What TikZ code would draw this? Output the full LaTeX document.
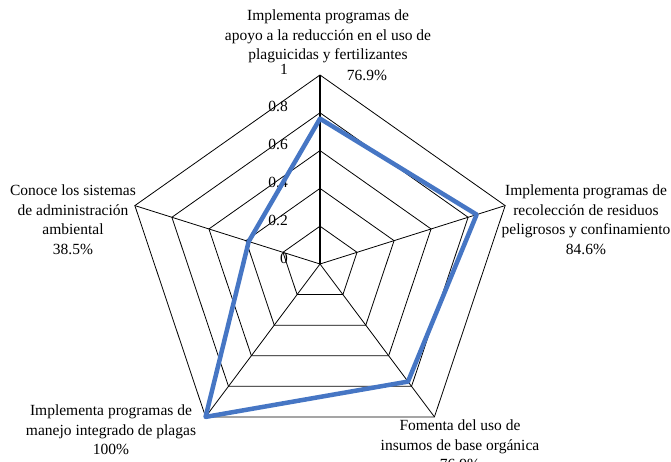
\documentclass[tikz,border=0pt]{standalone}
\usepackage{fontspec}
\setmainfont{Liberation Serif}
\definecolor{serieblue}{RGB}{70,118,196}
\begin{document}
\begin{tikzpicture}[x=1pt,y=-1pt,
  lbl/.style={font=\fontsize{15.5}{19.5}\selectfont, align=center, inner sep=0pt, anchor=north},
  ticklbl/.style={font=\fontsize{15.5}{18}\selectfont, inner sep=0pt, anchor=east},
  gridline/.style={black, line width=0.8pt},
  valaxis/.style={black, line width=1.4pt},
  serie/.style={serieblue, line width=4.5pt, line join=round}]
\useasboundingbox (0,0) rectangle (671,462);
\def\cx{320}\def\cy{264}\def\R{189}\def\xs{1.03}
% axis end points
\foreach \k in {0,...,4}{
  \pgfmathsetmacro\ang{90-72*\k}
  \coordinate (v\k) at ({\cx+\xs*\R*cos(\ang)},{\cy-\R*sin(\ang)});
}
\coordinate (c) at (\cx,\cy);
% rings
\foreach \i in {1,...,5}{
  \pgfmathsetmacro\rr{\R*\i/5}
  \draw[gridline] ({\cx},{\cy-\rr})
    -- ({\cx+\xs*\rr*cos(18)},{\cy-\rr*sin(18)})
    -- ({\cx+\xs*\rr*cos(-54)},{\cy-\rr*sin(-54)})
    -- ({\cx+\xs*\rr*cos(-126)},{\cy-\rr*sin(-126)})
    -- ({\cx+\xs*\rr*cos(162)},{\cy-\rr*sin(162)}) -- cycle;
}
% spokes
\foreach \k in {1,...,4}{ \draw[gridline] (c) -- (v\k); }
\draw[valaxis] (c) -- (v0);
% tick labels
\foreach \v/\t [count=\n from 0] in {0/0,0.2/0.2,0.4/0.4,0.6/0.6,0.8/0.8,1/1}{
  \node[ticklbl] (t\n) at (288,{\cy-\R*\v-6}) {\t};
}
% data
\coordinate (d0) at ({\cx},{\cy-\R*0.769});
\coordinate (d1) at ({\cx+\xs*\R*0.846*cos(18)},{\cy-\R*0.846*sin(18)});
\coordinate (d2) at ({\cx+\xs*\R*0.769*cos(-54)},{\cy-\R*0.769*sin(-54)});
\coordinate (d3) at ({\cx+\xs*\R*1.0*cos(-126)},{\cy-\R*1.0*sin(-126)});
\coordinate (d4) at ({\cx+\xs*\R*0.385*cos(162)},{\cy-\R*0.385*sin(162)});
\draw[serie] (d0) -- (d1) -- (d2) -- (d3) -- (d4) -- cycle;
% category labels
\node[lbl] (l0) at (328,10) {Implementa programas de\\apoyo a la reducción en el uso de\\plaguicidas y fertilizantes};
\node[lbl, anchor=center] (p0) at (367,75) {76.9\%};
\node[lbl] (l1) at (586,185) {Implementa programas de\\recolección de residuos\\peligrosos y confinamiento\\84.6\%};
\node[lbl] (l2) at (460,420) {Fomenta del uso de\\insumos de base orgánica\\76.9\%};
\node[lbl] (l3) at (111,405) {Implementa programas de\\manejo integrado de plagas\\100\%};
\node[lbl] (l4) at (73,185) {Conoce los sistemas\\de administración\\ambiental\\38.5\%};
\end{tikzpicture}
\end{document}
